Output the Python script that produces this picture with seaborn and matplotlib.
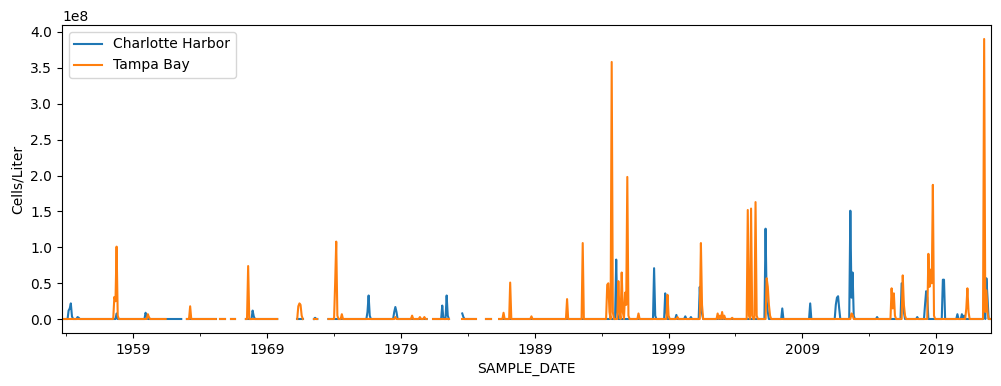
"""
Monthly Karenia brevis counts, Charlotte Harbor vs Tampa Bay
"""

import numpy as np
import pandas as pd
import matplotlib
matplotlib.use("Agg")
import matplotlib.pyplot as plt
import matplotlib.dates as mdates
from matplotlib.ticker import FixedLocator, FixedFormatter, NullFormatter
import seaborn as sns

START_MONTH = "1953-09"
END_MONTH = "2023-02"
SCALE = 1e8          # values below are read in units of 1e8 cells/liter
BASE_LEVEL = 0.003   # background level between blooms (~0 on this scale)

SERIES = ["Charlotte Harbor", "Tampa Bay"]
COLORS = ["#1f77b4", "#ff7f0e"]

# bloom months
charlotte_months = [
    "1954-03", "1954-04", "1954-05", "1954-06", "1954-11", "1954-12",
    "1957-10", "1959-12", "1960-01", "1967-12", "1968-01", "1972-08",
    "1976-07", "1976-08", "1976-09", "1978-07", "1978-08", "1978-09",
    "1982-02", "1982-03", "1982-06", "1982-07", "1983-08", "1983-09",
    "1994-09", "1995-02", "1995-03", "1997-12", "1998-01", "1998-10",
    "1998-11", "1999-08", "2000-04", "2000-09", "2001-05", "2001-06",
    "2001-07", "2006-04", "2006-05", "2006-06", "2007-07", "2009-08",
    "2011-07", "2011-08", "2011-09", "2011-10", "2012-08", "2012-09",
    "2012-10", "2012-11", "2014-08", "2016-06", "2016-07", "2016-08",
    "2017-08", "2018-03", "2018-04", "2018-05", "2019-07", "2019-08",
    "2020-08", "2020-12", "2021-02", "2022-08", "2022-10", "2022-11",
]
charlotte_values = [
    0.12, 0.15, 0.22, 0.04, 0.03, 0.02,
    0.08, 0.09, 0.04, 0.12, 0.04, 0.02,
    0.10, 0.33, 0.05, 0.10, 0.17, 0.10,
    0.19, 0.03, 0.33, 0.05, 0.08, 0.03,
    0.03, 0.83, 0.10, 0.71, 0.05, 0.36,
    0.10, 0.06, 0.04, 0.03, 0.45, 0.10,
    0.08, 1.26, 0.25, 0.10, 0.15, 0.22,
    0.20, 0.30, 0.32, 0.15, 1.51, 0.30,
    0.65, 0.05, 0.03, 0.50, 0.30, 0.10,
    0.03, 0.20, 0.39, 0.30, 0.55, 0.55,
    0.07, 0.07, 0.05, 0.10, 0.57, 0.30,
]

tampa_months = [
    "1957-08", "1957-09", "1957-10", "1957-11", "1960-02", "1960-03",
    "1963-04", "1967-08", "1971-05", "1971-06", "1971-07", "1971-08",
    "1974-02", "1974-03", "1974-04", "1974-08", "1978-08", "1979-11",
    "1980-06", "1980-10", "1986-09", "1987-03", "1988-10", "1991-06",
    "1992-08", "1994-06", "1994-07", "1994-08", "1994-10", "1994-11",
    "1995-04", "1995-05", "1995-07", "1995-08", "1995-10", "1995-11",
    "1995-12", "1996-01", "1996-10", "1998-12", "1999-01", "1999-09",
    "2001-06", "2001-07", "2002-09", "2002-11", "2003-01", "2003-03",
    "2003-10", "2004-12", "2005-01", "2005-03", "2005-04", "2005-07",
    "2005-08", "2006-05", "2006-06", "2006-07", "2006-08", "2012-09",
    "2012-10", "2015-09", "2015-10", "2015-11", "2015-12", "2016-07",
    "2016-08", "2016-09", "2018-06", "2018-07", "2018-08", "2018-09",
    "2018-10", "2018-11", "2021-04", "2021-05", "2021-06", "2022-08",
    "2022-09", "2022-10", "2022-11",
]
tampa_values = [
    0.31, 0.25, 1.01, 0.05, 0.07, 0.03,
    0.18, 0.74, 0.18, 0.22, 0.20, 0.05,
    0.53, 1.08, 0.05, 0.07, 0.03, 0.05,
    0.03, 0.03, 0.09, 0.51, 0.04, 0.28,
    1.06, 0.48, 0.50, 0.10, 3.58, 0.10,
    0.53, 0.10, 0.65, 0.10, 0.37, 0.20,
    1.98, 0.05, 0.08, 0.34, 0.05, 0.03,
    1.06, 0.20, 0.08, 0.05, 0.10, 0.05,
    0.02, 1.52, 0.05, 1.54, 0.05, 1.63,
    0.05, 0.57, 0.45, 0.20, 0.05, 0.08,
    0.06, 0.43, 0.15, 0.36, 0.05, 0.61,
    0.20, 0.05, 0.91, 0.45, 0.69, 0.50,
    1.87, 0.05, 0.15, 0.43, 0.10, 3.90,
    0.10, 0.40, 0.10,
]

# months with no samples (line breaks)
charlotte_gaps = [
    ("1962-09", "1962-12"), ("1965-04", "1965-06"), ("1965-12", "1966-04"),
    ("1966-09", "1967-05"), ("1969-11", "1971-03"), ("1971-10", "1972-06"),
    ("1972-11", "1973-07"), ("1981-01", "1981-05"), ("1982-09", "1983-07"),
    ("1984-09", "1985-04"), ("1985-11", "1986-04"),
]
tampa_gaps = [
    ("1961-07", "1962-12"), ("1965-04", "1965-06"), ("1965-12", "1966-04"),
    ("1966-09", "1967-05"), ("1969-11", "1971-03"), ("1971-10", "1972-06"),
    ("1972-11", "1973-07"), ("1981-01", "1981-05"), ("1982-09", "1983-07"),
    ("1984-09", "1985-04"), ("1985-11", "1986-04"),
]

major_years = [1959, 1969, 1979, 1989, 1999, 2009, 2019]
minor_years = [1954, 1964, 1974, 1984, 1994, 2004, 2014]


def build_series(name, months, values, gaps):
    idx = pd.period_range(START_MONTH, END_MONTH, freq="M")
    s = pd.Series(BASE_LEVEL, index=idx)
    s.loc[pd.PeriodIndex(months, freq="M")] = values
    for a, b in gaps:
        s.loc[pd.Period(a, "M"):pd.Period(b, "M")] = np.nan
    df = pd.DataFrame({
        "SAMPLE_DATE": idx.to_timestamp(),
        "Cells/Liter": s.values * SCALE,
        "Station": name,
        "run": s.isna().cumsum().values,  # new run after every gap
    })
    return df.dropna()


data = pd.concat([
    build_series(SERIES[0], charlotte_months, charlotte_values, charlotte_gaps),
    build_series(SERIES[1], tampa_months, tampa_values, tampa_gaps),
], ignore_index=True)

fig = plt.figure(figsize=(10.01, 3.86), dpi=100)
ax = fig.add_axes([0.0619, 0.1373, 0.928, 0.798])

sns.lineplot(data=data, x="SAMPLE_DATE", y="Cells/Liter", hue="Station",
             hue_order=SERIES, palette=COLORS, units="run", estimator=None,
             linewidth=1.5, ax=ax)

ax.set_xlim(pd.Timestamp(START_MONTH), pd.Timestamp(END_MONTH))

major_pos = mdates.date2num(pd.to_datetime([f"{y}-01-01" for y in major_years]))
minor_pos = mdates.date2num(pd.to_datetime([f"{y}-01-01" for y in minor_years]))
ax.xaxis.set_major_locator(FixedLocator(major_pos))
ax.xaxis.set_major_formatter(FixedFormatter([str(y) for y in major_years]))
ax.xaxis.set_minor_locator(FixedLocator(minor_pos))
ax.xaxis.set_minor_formatter(NullFormatter())

sns.move_legend(ax, "upper left", title=None)

fig.savefig("out.png", dpi=100)
